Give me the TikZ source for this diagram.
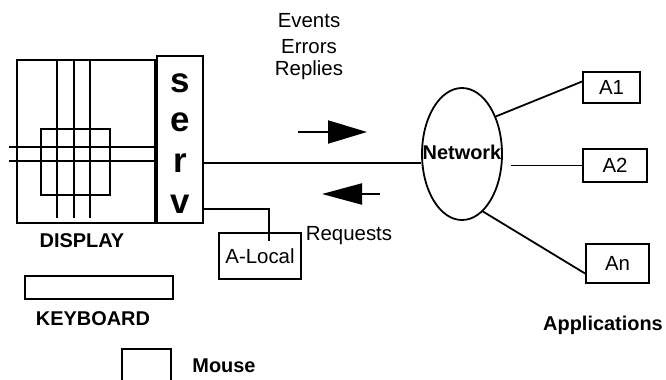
\documentclass[tikz,border=0pt]{standalone}
\usepackage{fontspec}
\setmainfont{Liberation Sans}
\usetikzlibrary{shapes.geometric,arrows.meta}
\begin{document}
\begin{tikzpicture}[x=1bp,y=-1bp,
  box/.style={draw,line width=1.8bp,inner sep=0pt,rectangle},
  lbl/.style={font=\fontsize{20.5}{24}\selectfont,inner sep=0pt},
  blbl/.style={font=\fontsize{20}{24}\bfseries\selectfont,inner sep=0pt},
  sletter/.style={font=\fontsize{35}{40}\bfseries\selectfont,inner sep=0pt},
  wire/.style={line width=1.8bp},
  bigarrow/.style={line width=2bp}]
\useasboundingbox (0,0) rectangle (666,379);
\clip (0,0) rectangle (666,379);
% display
\node[box,minimum width=138bp,minimum height=163bp] (disp) at (86,141.5) {};
\foreach \x in {57,74,90} \draw[wire] (\x,60) -- (\x,218);
\draw[wire] (9,147) -- (155,147);
\draw[wire] (9,161) -- (155,161);
\node[box,minimum width=69bp,minimum height=66bp] (win) at (75.5,162) {};
\node[blbl,anchor=base] (displbl) at (82,247) {DISPLAY};
% server
\node[box,minimum width=46bp,minimum height=167bp] (serv) at (180,139.5) {};
\node[sletter] (ls) at (180,83) {s};
\node[sletter] (le) at (180,122) {e};
\node[sletter] (lr) at (180,163) {r};
\node[sletter] (lv) at (180,204) {v};
% keyboard and mouse
\node[box,minimum width=148bp,minimum height=23bp] (kbd) at (99,287.5) {};
\node[blbl,anchor=base] (kbdlbl) at (93,325) {KEYBOARD};
\node[box,minimum width=49bp,minimum height=60bp] (mouse) at (146.5,379) {};
\node[blbl,anchor=base] (mouselbl) at (224,372) {Mouse};
% local client
\node[box,lbl,minimum width=82bp,minimum height=46bp] (aloc) at (260,256) {A-Local};
\draw[wire] (serv.east |- 0,209) -| ([xshift=9bp,yshift=-9bp]aloc.north);
\node[lbl,anchor=base] (req) at (349,240) {Requests};
% network
\node[draw,ellipse,wire,minimum width=80bp,minimum height=132bp,inner sep=0pt] (net) at (462,154) {};
\node[blbl] (netlbl) at (462,152) {Network};
\draw[wire] (serv.east |- 0,163) -- (net.west |- 0,163);
% messages
\node[lbl,anchor=base] (ev) at (309,27) {Events};
\node[lbl,anchor=base] (er) at (309,53) {Errors};
\node[lbl,anchor=base] (rp) at (309,75) {Replies};
\coordinate (ea) at (298,132);
\coordinate (eb) at (367,132);
\draw[bigarrow,-{Triangle[length=39bp,width=23bp]}] (ea) -- (eb);
\coordinate (ra) at (380,194);
\coordinate (rb) at (322,194);
\draw[bigarrow,-{Triangle[length=40bp,width=21bp]}] (ra) -- (rb);
% applications
\node[box,lbl,minimum width=57bp,minimum height=31bp] (a1) at (611.5,87.5) {A1};
\node[box,lbl,minimum width=64bp,minimum height=33bp] (a2) at (615,165.5) {A2};
\node[box,lbl,minimum width=63bp,minimum height=39bp] (an) at (617.5,263.5) {An};
\draw[wire] (net.48) -- ([yshift=6bp]a1.west);
\draw[wire] ([xshift=8bp]net.east |- a2.west) -- (a2.west);
\draw[wire] (net.-70) -- ([yshift=-10bp]an.west);
\node[blbl,anchor=base] (apps) at (603,330) {Applications};
\end{tikzpicture}
\end{document}
